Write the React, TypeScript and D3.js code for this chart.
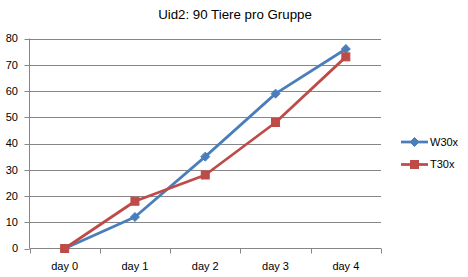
import React from "react";
import * as d3 from "d3";

const categories = ["day 0", "day 1", "day 2", "day 3", "day 4"];
const w30x = [0, 12, 35, 59, 76];
const t30x = [0, 18, 28, 48, 73];
const yTicks = [0, 10, 20, 30, 40, 50, 60, 70, 80];
const seriesNames = ["W30x", "T30x"];
const title = "Uid2: 90 Tiere pro Gruppe";

const W = 468, H = 277;
const left = 29.5, right = 381, top = 38.5, bottom = 248.5;
const colors = ["#4A7EBB", "#BE4B48"];
const font = "'Liberation Sans', Arial, sans-serif";

export default function App() {
  const x = d3.scaleBand().domain(categories).range([left, right]);
  const y = d3.scaleLinear().domain([0, 80]).range([bottom, top]);
  const line = d3.line<number>().x((_, i) => x(categories[i])! + x.bandwidth() / 2).y(d => y(d));
  const series = [w30x, t30x];
  const diamond = (cx: number, cy: number, r: number) => `M${cx},${cy - r}L${cx + r},${cy}L${cx},${cy + r}L${cx - r},${cy}Z`;
  const marker = (si: number, cx: number, cy: number, k: string) =>
    si === 0 ? (
      <path key={k} d={diamond(cx, cy, 4.5)} fill={colors[0]} stroke={colors[0]} strokeWidth={1} />
    ) : (
      <rect key={k} x={cx - 4} y={cy - 4} width={8} height={8} fill={colors[1]} stroke={colors[1]} strokeWidth={1} />
    );
  const tickXs = [...categories.map(c => x(c)!), right];
  return (
    <svg width={W} height={H} style={{ position: "absolute", left: 0, top: 0, background: "#fff" }}>
      <rect width={W} height={H} fill="#fff" />
      <text x={235} y={19} textAnchor="middle" fontFamily={font} fontSize={13.3} fill="#000">{title}</text>
      {yTicks.map(t => (
        <g key={t}>
          {t > 0 && <line x1={left} x2={right} y1={Math.round(y(t)) + 0.5} y2={Math.round(y(t)) + 0.5} stroke="#868686" strokeWidth={1} />}
          <line x1={left - 5} x2={left} y1={Math.round(y(t)) + 0.5} y2={Math.round(y(t)) + 0.5} stroke="#868686" />
          <text x={18} y={y(t)} dy="0.35em" textAnchor="end" fontFamily={font} fontSize={11} fill="#000">{t}</text>
        </g>
      ))}
      <line x1={left} x2={left} y1={top} y2={bottom} stroke="#868686" />
      <line x1={left} x2={right} y1={bottom} y2={bottom} stroke="#868686" />
      {tickXs.map((tx, i) => (
        <line key={i} x1={Math.round(tx) + 0.5} x2={Math.round(tx) + 0.5} y1={bottom} y2={bottom + 5} stroke="#868686" />
      ))}
      {categories.map(c => (
        <text key={c} x={x(c)! + x.bandwidth() / 2} y={270} textAnchor="middle" fontFamily={font} fontSize={11} fill="#000">{c}</text>
      ))}
      {series.map((s, si) => (
        <g key={si}>
          <path d={line(s)!} fill="none" stroke={colors[si]} strokeWidth={2.75} strokeLinejoin="round" />
          {s.map((v, i) => marker(si, x(categories[i])! + x.bandwidth() / 2, y(v), `${si}-${i}`))}
        </g>
      ))}
      {seriesNames.map((n, si) => {
        const ly = 142 + si * 22.5;
        return (
          <g key={n}>
            <line x1={401} x2={428} y1={ly} y2={ly} stroke={colors[si]} strokeWidth={2.75} />
            {marker(si, 414.5, ly, `l${si}`)}
            <text x={430} y={ly} dy="0.35em" fontFamily={font} fontSize={11} fill="#000">{n}</text>
          </g>
        );
      })}
    </svg>
  );
}
